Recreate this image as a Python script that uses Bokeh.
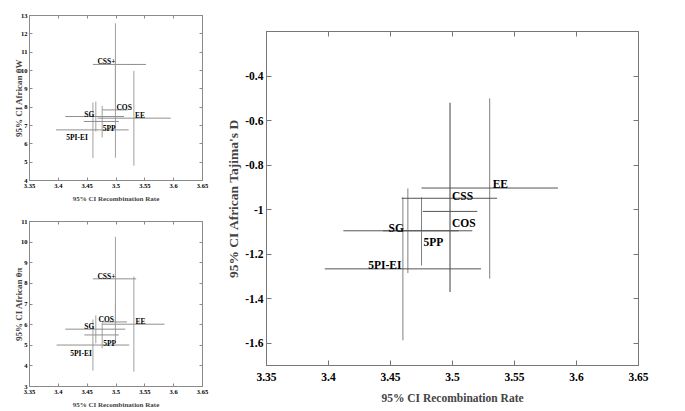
from bokeh.plotting import figure
from bokeh.models import (FixedTicker, LinearAxis, CustomJSTickFormatter, Label,
                          ColumnDataSource, Range1d)
from bokeh.layouts import row, column
from bokeh.core.properties import value
from bokeh.embed import file_html
from bokeh.resources import INLINE

FONT = "Liberation Serif"

# ---------------- data ----------------
rec_ticks = [3.35, 3.40, 3.45, 3.50, 3.55, 3.60, 3.65]

# top-left panel: 95% CI African theta_W (x 10^-3)
tw_names = ["CSS+", "COS", "EE", "SG", "5PP", "5PI-EI"]
tw_rec_lo = [3.460, 3.476, 3.468, 3.412, 3.444, 3.396]
tw_rec_hi = [3.552, 3.520, 3.595, 3.514, 3.505, 3.522]
tw_rec_c = [3.499, 3.499, 3.531, 3.465, 3.476, 3.460]
tw_lo = [8.08, 5.24, 4.81, 6.67, 6.35, 5.23]
tw_hi = [12.58, 10.45, 9.98, 8.30, 8.07, 8.25]
tw_c = [10.33, 7.85, 7.40, 7.49, 7.22, 6.76]
tw_yticks = [4, 5, 6, 7, 8, 9, 10, 11, 12, 13]

# bottom-left panel: 95% CI African theta_pi (x 10^-3)
tp_names = ["CSS+", "COS", "EE", "SG", "5PP", "5PI-EI"]
tp_rec_lo = [3.460, 3.476, 3.476, 3.412, 3.445, 3.397]
tp_rec_hi = [3.535, 3.519, 3.584, 3.516, 3.505, 3.523]
tp_rec_c = [3.499, 3.499, 3.531, 3.465, 3.476, 3.460]
tp_lo = [6.18, 5.24, 3.72, 5.09, 4.85, 3.77]
tp_hi = [10.26, 7.02, 8.33, 6.45, 6.10, 6.25]
tp_c = [8.22, 6.13, 6.02, 5.78, 5.50, 5.01]
tp_yticks = [3, 4, 5, 6, 7, 8, 9, 10, 11]

# right panel: 95% CI African Tajima's D
td_names = ["CSS", "COS", "EE", "SG", "5PP", "5PI-EI"]
td_rec_lo = [3.459, 3.476, 3.475, 3.412, 3.444, 3.397]
td_rec_hi = [3.536, 3.520, 3.585, 3.516, 3.505, 3.523]
td_rec_c = [3.498, 3.498, 3.530, 3.464, 3.475, 3.460]
td_lo = [-1.37, -1.37, -1.31, -1.285, -1.251, -1.587]
td_hi = [-0.52, -0.52, -0.50, -0.905, -0.945, -0.945]
td_c = [-0.949, -1.008, -0.903, -1.095, -1.095, -1.266]
td_yticks = [-1.6, -1.4, -1.2, -1.0, -0.8, -0.6, -0.4]

# label placement (alignment, pixel dx, pixel dy) -- styling only
tw_lab = {"CSS+": ("right", 0, -2.5), "COS": ("left", 1, -2), "EE": ("left", 1, -3),
          "SG": ("right", -1.5, -2), "5PP": ("left", 0.5, 7), "5PI-EI": ("right", -5, 7.5)}
tp_lab = {"CSS+": ("right", 0, -2.5), "COS": ("right", -1.5, -2.5), "EE": ("left", 1.5, -2.5),
          "SG": ("right", -1.5, -2.5), "5PP": ("left", 1, 8.5), "5PI-EI": ("right", -1, 8)}
td_lab = {"CSS": ("left", 2, -2.5), "COS": ("left", 2, 12), "EE": ("left", 3, -4),
          "SG": ("right", -4, -3), "5PP": ("left", 2, 11), "5PI-EI": ("right", -1.5, -4)}


def panel(names, rlo, rhi, rc, lo, hi, c, yticks, yr, ylabel, labstyle,
          W, H, borders, tick_fs, xlab_fs, ylab_fs, name_fs, tick_len, axc, hcol, vcol,
          xstand, ystand, xlab_stand, ylab_stand, scale_label=False):
    bl, br, bt, bb = borders
    p = figure(width=W, height=H, x_range=Range1d(3.35, 3.65), y_range=Range1d(*yr),
               output_backend="svg", toolbar_location=None, title=None,
               min_border_left=bl, min_border_right=br, min_border_top=bt,
               min_border_bottom=bb)
    p.grid.visible = False
    p.outline_line_color = axc
    p.background_fill_color = "white"
    p.border_fill_color = "white"

    fmt = CustomJSTickFormatter(code="return String(Math.round(tick*100)/100);")
    xa = p.xaxis[0]
    ya = p.yaxis[0]
    xa.ticker = FixedTicker(ticks=rec_ticks)
    ya.ticker = FixedTicker(ticks=yticks)
    xa.formatter = fmt
    ya.formatter = fmt
    xa.axis_label = "95% CI Recombination Rate"
    ya.axis_label = ylabel
    top = LinearAxis(ticker=FixedTicker(ticks=rec_ticks), major_label_text_color=None)
    right = LinearAxis(ticker=FixedTicker(ticks=yticks), major_label_text_color=None)
    p.add_layout(top, "above")
    p.add_layout(right, "right")
    for ax in [xa, ya, top, right]:
        ax.major_tick_in = tick_len
        ax.major_tick_out = 0
        ax.minor_tick_line_color = None
        ax.axis_line_color = axc
        ax.major_tick_line_color = axc
        ax.major_label_text_font = FONT
        ax.major_label_text_font_style = "bold"
        ax.major_label_text_font_size = f"{tick_fs}px"
        ax.axis_label_text_font = FONT
        ax.axis_label_text_font_style = "bold"
    xa.axis_label_text_font_size = f"{xlab_fs}px"
    ya.axis_label_text_font_size = f"{ylab_fs}px"
    xa.major_label_text_color = "black"
    ya.major_label_text_color = "black"
    xa.major_label_standoff = xstand
    ya.major_label_standoff = ystand
    xa.axis_label_standoff = xlab_stand
    ya.axis_label_standoff = ylab_stand
    top.major_label_standoff = 0
    right.major_label_standoff = 0
    top.major_label_text_font_size = "1px"
    right.major_label_text_font_size = "1px"

    # vertical CIs (statistic) and horizontal CIs (recombination rate)
    p.segment(x0=rc, y0=lo, x1=rc, y1=hi, line_color=vcol, line_width=1)
    p.segment(x0=rlo, y0=c, x1=rhi, y1=c, line_color=hcol, line_width=1)

    for align in ("left", "right"):
        idx = [i for i, n in enumerate(names) if labstyle[n][0] == align]
        src = ColumnDataSource(dict(
            x=[rc[i] for i in idx], y=[c[i] for i in idx],
            text=[names[i] for i in idx],
            dx=[labstyle[names[i]][1] for i in idx],
            dy=[labstyle[names[i]][2] for i in idx]))
        p.text(x="x", y="y", text="text", x_offset="dx", y_offset="dy", source=src,
               text_align=align, text_baseline="alphabetic",
               text_font=value(FONT), text_font_style="bold",
               text_font_size=value(f"{name_fs}px"), text_color="black")

    if scale_label:
        p.add_layout(Label(x=3.35, y=yr[1], text="x 10\u207b\u00b3", x_offset=0, y_offset=1,
                           text_baseline="bottom", text_font=FONT,
                           text_font_size="6px", text_color="black"))
    return p


p1 = panel(tw_names, tw_rec_lo, tw_rec_hi, tw_rec_c, tw_lo, tw_hi, tw_c, tw_yticks,
           (4, 13), "95% CI African \u03b8W", tw_lab,
           223, 205, (29, 21, 15, 24), 6.5, 7, 9, 7.5, 3, "#8a8a8a", "#8f8f8f", "#a0a0a0",
           3, 2, 4, -6, scale_label=True)
p2 = panel(tp_names, tp_rec_lo, tp_rec_hi, tp_rec_c, tp_lo, tp_hi, tp_c, tp_yticks,
           (3, 11), "95% CI African \u03b8\u03c0", tp_lab,
           223, 206, (29, 21, 16, 24), 6.5, 7, 9, 7.5, 3, "#8a8a8a", "#8f8f8f", "#a0a0a0",
           3, 2, 4, -6, scale_label=True)
p3 = panel(td_names, td_rec_lo, td_rec_hi, td_rec_c, td_lo, td_hi, td_c, td_yticks,
           (-1.7, -0.2), "95% CI African Tajima's D", td_lab,
           462, 411, (38, 47, 31, 46), 11.5, 11.5, 13.5, 11.5, 5, "#777777", "#555555", "#808080",
           7, 3, 8, 1)

layout = row(column(p1, p2), p3)
open("out.html", "w").write(file_html(layout, INLINE))
